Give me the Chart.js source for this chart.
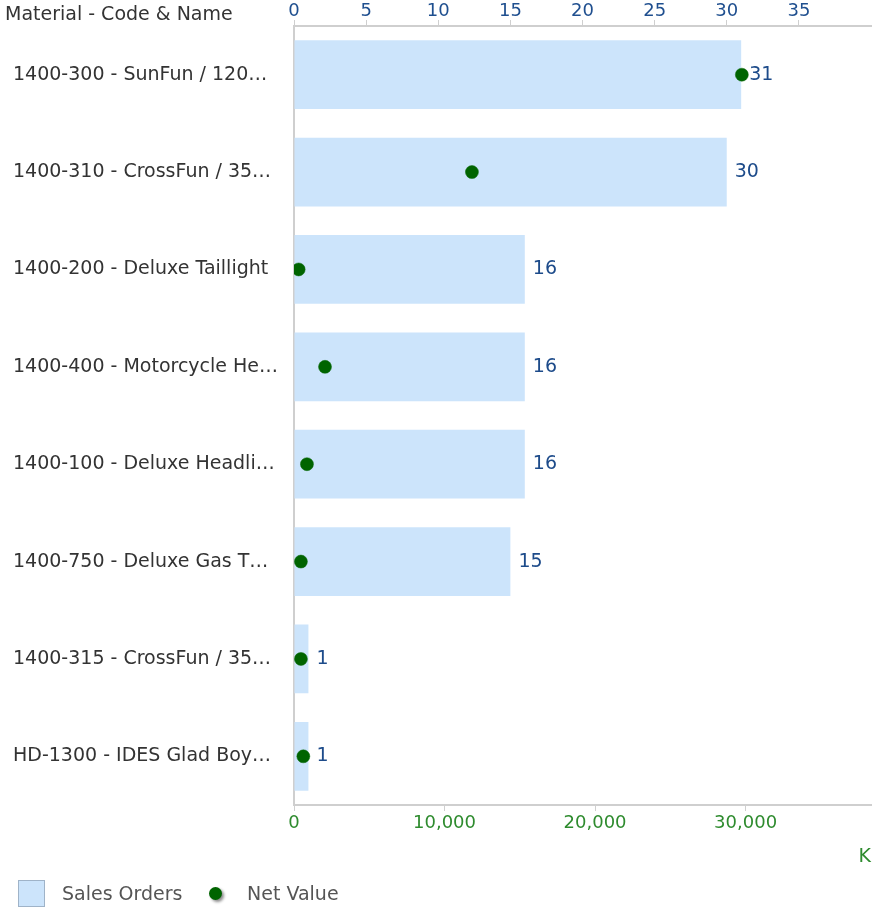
<!DOCTYPE html>
<html>
<head>
<meta charset="utf-8">
<script src="https://cdn.jsdelivr.net/npm/chart.js@4/dist/chart.umd.min.js"></script>
<style>
  html, body { margin: 0; padding: 0; background: #fff; }
  body { width: 878px; height: 911px; position: relative; overflow: hidden; font-family: "DejaVu Sans", sans-serif; }
  #wrap { position: absolute; left: 0; top: 0; width: 878px; height: 911px; }
  .txt { position: absolute; font-size: 19px; line-height: 24px; white-space: nowrap; }
  #ytitle { left: 5px; top: 1px; color: #333; }
  #lgBox { position: absolute; left: 18px; top: 880px; width: 25px; height: 25px; background: #cce4fb; border: 1px solid #9fb3c8; }
  #lgDot { position: absolute; left: 209px; top: 887px; width: 13px; height: 13px; border-radius: 50%; background: #006400; box-shadow: 2px 2px 3px #8a8a8a; }
  #lg1 { left: 62px; top: 881px; color: #555; }
  #lg2 { left: 247px; top: 881px; color: #555; }
</style>
</head>
<body>
<div id="wrap"><canvas id="c" width="878" height="911"></canvas></div>
<div class="txt" id="ytitle">Material - Code &amp; Name</div>
<div id="lgBox"></div><div class="txt" id="lg1">Sales Orders</div>
<div id="lgDot"></div><div class="txt" id="lg2">Net Value</div>
<script>
const categories = [
  "1400-300 - SunFun / 120…",
  "1400-310 - CrossFun / 35…",
  "1400-200 - Deluxe Taillight",
  "1400-400 - Motorcycle He…",
  "1400-100 - Deluxe Headli…",
  "1400-750 - Deluxe Gas T…",
  "1400-315 - CrossFun / 35…",
  "HD-1300 - IDES Glad Boy…"
];
const salesOrders = [31, 30, 16, 16, 16, 15, 1, 1];
const netValue = [29750, 11820, 310, 2060, 860, 460, 460, 620];
const topTickValues = [0, 5, 10, 15, 20, 25, 30, 35];
const bottomTickValues = [0, 10000, 20000, 30000];

Chart.defaults.font.family = '"DejaVu Sans", sans-serif';
Chart.defaults.font.size = 19;

const barLabels = {
  id: 'barLabels',
  afterDatasetsDraw(chart) {
    const meta = chart.getDatasetMeta(0);
    const ctx = chart.ctx;
    ctx.save();
    ctx.font = '19px "DejaVu Sans", sans-serif';
    ctx.fillStyle = '#1d4b8a';
    ctx.textAlign = 'left';
    ctx.textBaseline = 'middle';
    meta.data.forEach((bar, i) => {
      ctx.fillText(String(salesOrders[i]), bar.x + 8, bar.y);
    });
    ctx.restore();
  }
};

new Chart(document.getElementById('c'), {
  type: 'bar',
  data: {
    labels: categories,
    datasets: [
      {
        label: 'Sales Orders',
        data: salesOrders,
        xAxisID: 'xTop',
        backgroundColor: '#cce4fb',
        borderWidth: 0,
        barPercentage: 0.706,
        categoryPercentage: 1,
        order: 2
      },
      {
        type: 'line',
        label: 'Net Value',
        data: netValue,
        xAxisID: 'xBottom',
        showLine: false,
        pointRadius: 6.5,
        pointBackgroundColor: '#006400',
        pointBorderColor: '#0b6b0b',
        pointBorderWidth: 0.5,
        order: 1
      }
    ]
  },
  options: {
    indexAxis: 'y',
    responsive: false,
    animation: false,
    events: [],
    layout: { padding: { left: 13, right: 0, top: 2, bottom: 43 } },
    plugins: { legend: { display: false }, tooltip: { enabled: false } },
    scales: {
      y: {
        type: 'category',
        position: 'left',
        grid: { display: false },
        border: { display: true, color: '#cfcfcf', width: 2 },
        ticks: { color: '#333', crossAlign: 'far', padding: 8, font: { size: 19 } },
        afterFit(s) { s.width = 281; }
      },
      xTop: {
        type: 'linear',
        position: 'top',
        min: 0,
        max: 40,
        grid: { drawOnChartArea: false, drawTicks: true, tickLength: 6, color: '#cfcfcf' },
        border: { display: true, color: '#cfcfcf', width: 2 },
        ticks: { color: '#1f4f8f', padding: -2, font: { size: 18 } },
        afterBuildTicks(s) { s.ticks = topTickValues.map(v => ({ value: v })); },
        afterFit(s) { s.height = 24; }
      },
      xBottom: {
        type: 'linear',
        position: 'bottom',
        min: 0,
        max: 38330,
        grid: { drawOnChartArea: false, drawTicks: true, tickLength: 6, color: '#cfcfcf' },
        border: { display: true, color: '#cfcfcf', width: 2 },
        ticks: {
          color: '#2e8b2e',
          padding: 2,
          font: { size: 18 },
          callback: v => Number(v).toLocaleString('en-US')
        },
        title: { display: true, text: 'K', align: 'end', color: '#2e8b2e', font: { size: 19 }, padding: { top: 4, bottom: 0 } },
        afterBuildTicks(s) { s.ticks = bottomTickValues.map(v => ({ value: v })); },
        afterFit(s) { s.height = 63; }
      }
    }
  },
  plugins: [barLabels]
});
</script>
</body>
</html>
